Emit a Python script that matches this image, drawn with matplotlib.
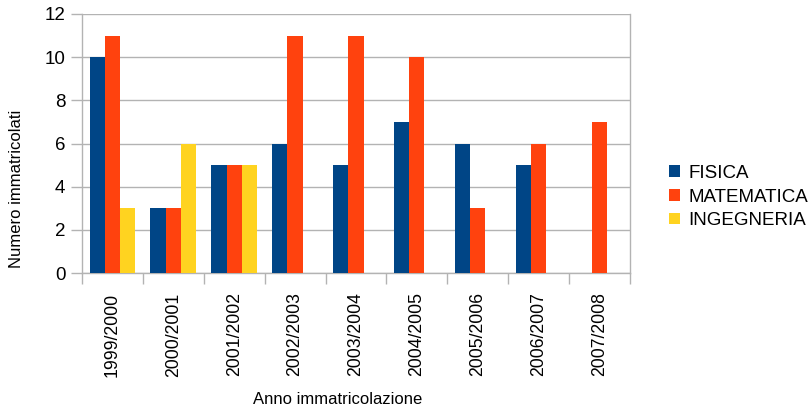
import matplotlib
matplotlib.use('Agg')
import matplotlib.pyplot as plt
import numpy as np

plt.rcParams['font.family'] = ['Liberation Sans', 'DejaVu Sans']

# dati
anni = ['1999/2000', '2000/2001', '2001/2002', '2002/2003', '2003/2004',
        '2004/2005', '2005/2006', '2006/2007', '2007/2008']
fisica = [10, 3, 5, 6, 5, 7, 6, 5, 0]
matematica = [11, 3, 5, 11, 11, 10, 3, 6, 7]
ingegneria = [3, 6, 5, 0, 0, 0, 0, 0, 0]

serie = [('FISICA', fisica, '#004586'),
         ('MATEMATICA', matematica, '#ff420e'),
         ('INGEGNERIA', ingegneria, '#ffd320')]

grigio = '#b3b3b3'

fig = plt.figure(figsize=(8.12, 4.07), dpi=100)
ax = fig.add_axes([82 / 812, 1 - 273 / 407, (630 - 82) / 812, (273 - 14) / 407])

x = np.arange(len(anni))
w = 0.25
for i, (nome, valori, colore) in enumerate(serie):
    ax.bar(x + (i - 1) * w, valori, width=w, color=colore, label=nome, zorder=3)

ax.set_xlim(-0.5, len(anni) - 0.5)
ax.set_ylim(0, 12)
ax.set_yticks(range(0, 13, 2))
ax.yaxis.grid(True, color=grigio, linewidth=1, zorder=0)

ax.set_xticks(x)
ax.set_xticklabels(anni, rotation=90, fontsize=12.7)
ax.set_xticks(np.arange(-0.5, len(anni)), minor=True)
ax.tick_params(axis='x', which='major', length=0, pad=14)
ax.tick_params(axis='x', which='minor', length=8, color=grigio, width=1)
ax.tick_params(axis='y', length=8, color=grigio, width=1, labelsize=13.5, pad=4)

ax.spines['top'].set_visible(False)
for lato in ['left', 'bottom', 'right']:
    ax.spines[lato].set_color(grigio)
    ax.spines[lato].set_linewidth(1)

fig.text(338 / 812, 1 - 399 / 407, 'Anno immatricolazione', ha='center', va='center', fontsize=12)
fig.text(17 / 812, 1 - 189 / 407, 'Numero immatricolati', ha='center', va='center',
         rotation=90, fontsize=12)

ax.legend(loc='center left', bbox_to_anchor=(669 / 812, 1 - 197 / 407),
          bbox_transform=fig.transFigure, frameon=False, fontsize=13.5,
          handlelength=0.6, handleheight=0.6, handletextpad=0.45,
          labelspacing=0.35, borderpad=0, borderaxespad=0)

fig.savefig('out.png', dpi=100)
